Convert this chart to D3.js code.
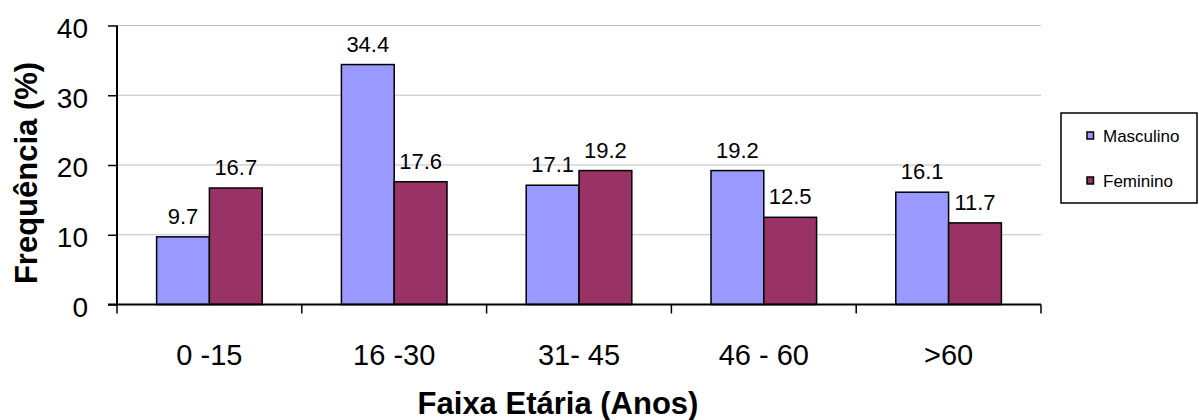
<!DOCTYPE html>
<html>
<head>
<meta charset="utf-8">
<script src="https://cdn.jsdelivr.net/npm/d3@7"></script>
<style>
  html, body { margin: 0; padding: 0; background: #fff; }
  svg { display: block; font-family: "Liberation Sans", Arial, sans-serif; }
</style>
</head>
<body>
<svg id="chart" width="1199" height="420"></svg>
<script>
const categories = ["0 -15", "16 -30", "31- 45", "46 - 60", ">60"];
const seriesNames = ["Masculino", "Feminino"];
const masculino = [9.7, 34.4, 17.1, 19.2, 16.1];
const feminino = [16.7, 17.6, 19.2, 12.5, 11.7];
const yTicks = [0, 10, 20, 30, 40];
const colors = ["#9999FF", "#993366"];
const yTitle = "Frequência (%)";
const xTitle = "Faixa Etária (Anos)";

const seriesValues = [masculino, feminino];
const svg = d3.select("#chart");
svg.append("rect").attr("width", 1199).attr("height", 420).attr("fill", "#fff");

const x = d3.scaleBand().domain(categories).range([117, 1041]).paddingInner(0).paddingOuter(0);
const xs = d3.scaleBand().domain(seriesNames).range([0, x.bandwidth()]).paddingInner(0).paddingOuter(0.75);
const y = d3.scaleLinear().domain([0, 40]).range([304.5, 25.5]);

// gridlines
svg.append("g").selectAll("line").data(yTicks.filter(t => t > 0)).join("line")
  .attr("x1", 117).attr("x2", 1041)
  .attr("y1", d => y(d)).attr("y2", d => y(d))
  .attr("stroke", "#c0c0c0").attr("stroke-width", 1.2);

// bars
const groups = svg.append("g").selectAll("g").data(categories).join("g")
  .attr("transform", d => `translate(${x(d)},0)`);
groups.selectAll("rect").data((c, i) => seriesNames.map((s, j) => ({ s, j, v: seriesValues[j][i] })))
  .join("rect")
  .attr("x", d => xs(d.s)).attr("width", xs.bandwidth())
  .attr("y", d => y(d.v)).attr("height", d => y(0) - y(d.v))
  .attr("fill", d => colors[d.j]).attr("stroke", "#000").attr("stroke-width", 1.5);
groups.selectAll("text").data((c, i) => seriesNames.map((s, j) => ({ s, j, v: seriesValues[j][i] })))
  .join("text")
  .attr("x", d => xs(d.s) + xs.bandwidth() / 2)
  .attr("y", d => y(d.v) - 13)
  .attr("text-anchor", "middle").attr("font-size", 22).attr("fill", "#000")
  .text(d => d.v.toFixed(1));

// y axis
const yAxis = svg.append("g").attr("transform", "translate(117,0)")
  .call(d3.axisLeft(y).tickValues(yTicks).tickSize(9).tickPadding(20).tickFormat(d3.format("d")));
yAxis.select(".domain").attr("stroke", "#000").attr("stroke-width", 2).attr("d", `M0,${y(40)}V${y(0)}`);
yAxis.selectAll(".tick line").attr("stroke", "#000").attr("stroke-width", 1.5);
yAxis.selectAll(".tick text").attr("font-size", 28).attr("font-family", "Liberation Sans, Arial, sans-serif")
  .attr("fill", "#000").attr("dy", "0.42em");

// x axis
const xAxis = svg.append("g").attr("transform", `translate(0,${y(0)})`)
  .call(d3.axisBottom(x).tickSize(0).tickPadding(0));
xAxis.select(".domain").attr("stroke", "#000").attr("stroke-width", 2).attr("d", `M${x.range()[0] - 9},0H${x.range()[1]}`);
xAxis.selectAll(".tick text").attr("font-size", 29).attr("font-family", "Liberation Sans, Arial, sans-serif")
  .attr("fill", "#000").attr("y", 60).attr("dy", "0");
const bounds = d3.range(categories.length + 1).map(i => x.range()[0] + i * x.step());
xAxis.append("g").selectAll("line").data(bounds).join("line")
  .attr("x1", d => d).attr("x2", d => d).attr("y1", 0).attr("y2", 9)
  .attr("stroke", "#000").attr("stroke-width", 1.5);

// titles
svg.append("text").attr("transform", "translate(37,173) rotate(-90)")
  .attr("text-anchor", "middle").attr("font-size", 31).attr("font-weight", "bold").text(yTitle);
svg.append("text").attr("x", 558).attr("y", 414)
  .attr("text-anchor", "middle").attr("font-size", 31).attr("font-weight", "bold").text(xTitle);

// legend
const lg = svg.append("g");
lg.append("rect").attr("x", 1061).attr("y", 113).attr("width", 136).attr("height", 90)
  .attr("fill", "#fff").attr("stroke", "#000").attr("stroke-width", 1.5);
const li = lg.selectAll("g").data(seriesNames).join("g")
  .attr("transform", (d, i) => `translate(1087,${135.5 + i * 45})`);
li.append("rect").attr("x", 0).attr("y", -3.5).attr("width", 6.5).attr("height", 7)
  .attr("fill", (d, i) => colors[i]).attr("stroke", "#000").attr("stroke-width", 1.5);
li.append("text").attr("x", 16).attr("y", 6).attr("font-size", 17).attr("fill", "#000").text(d => d);
</script>
</body>
</html>
